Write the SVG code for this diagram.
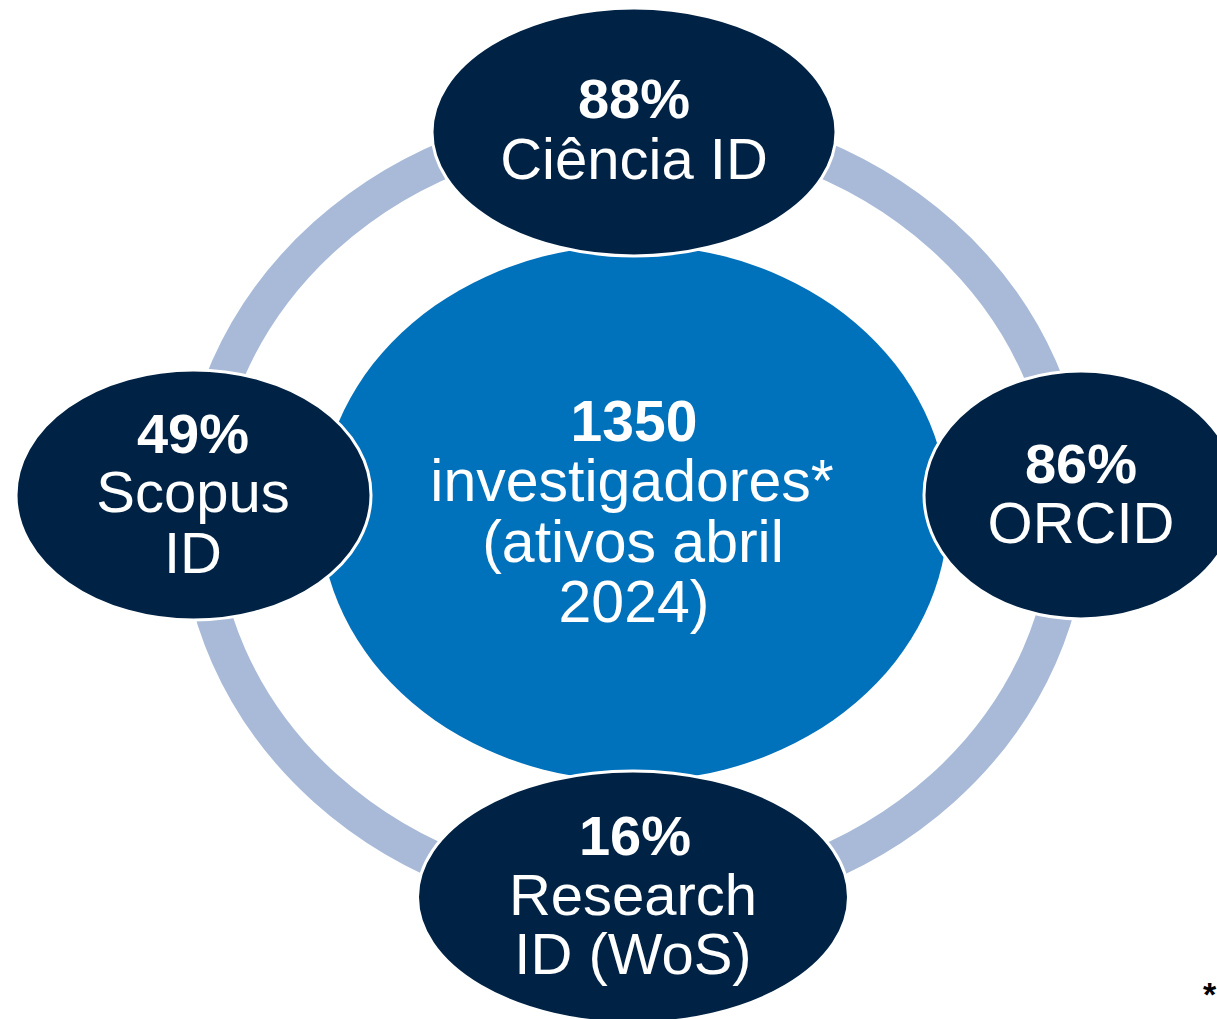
<svg xmlns="http://www.w3.org/2000/svg" width="1217" height="1019" viewBox="0 0 1217 1019">
  <style>
    .sat { fill: #002345; stroke: #ffffff; stroke-width: 3; }
    .t { font-family: "Liberation Sans", Arial, sans-serif; font-size: 58px; fill: #ffffff; text-anchor: middle; }
    .b { font-weight: bold; font-size: 56px; }
  </style>
  <rect x="0" y="0" width="1217" height="1019" fill="#ffffff"/>
  <g id="connectors">
    <ellipse cx="634" cy="512" rx="436" ry="391" fill="none" stroke="#A9BAD8" stroke-width="36"/>
  </g>
  <g id="center">
    <ellipse cx="634" cy="513" rx="314" ry="268" fill="#0071BB"/>
    <text class="t b" x="634" y="441" style="font-size:57px">1350</text>
    <text class="t" x="632" y="501" style="font-size:59px">investigadores*</text>
    <text class="t" x="633" y="562" style="font-size:59px">(ativos abril</text>
    <text class="t" x="634" y="622" style="font-size:59px">2024)</text>
  </g>
  <g id="node-ciencia">
    <ellipse class="sat" cx="634" cy="132" rx="202" ry="124"/>
    <text class="t b" x="634" y="118">88%</text>
    <text class="t" x="634" y="179">Ciência ID</text>
  </g>
  <g id="node-scopus">
    <ellipse class="sat" cx="193.5" cy="495" rx="177.5" ry="125"/>
    <text class="t b" x="193" y="453">49%</text>
    <text class="t" x="193" y="512">Scopus</text>
    <text class="t" x="193" y="573">ID</text>
  </g>
  <g id="node-orcid">
    <ellipse class="sat" cx="1081" cy="495" rx="157" ry="124"/>
    <text class="t b" x="1081" y="483">86%</text>
    <text class="t" x="1081" y="543">ORCID</text>
  </g>
  <g id="node-researchid">
    <ellipse class="sat" cx="633" cy="897" rx="215.5" ry="126"/>
    <text class="t b" x="635" y="855">16%</text>
    <text class="t" x="633" y="915">Research</text>
    <text class="t" x="633" y="974">ID (WoS)</text>
  </g>
  <text x="1203" y="1006" font-family="Liberation Sans, Arial, sans-serif" font-size="34" font-weight="bold" fill="#000000">*</text>
</svg>
